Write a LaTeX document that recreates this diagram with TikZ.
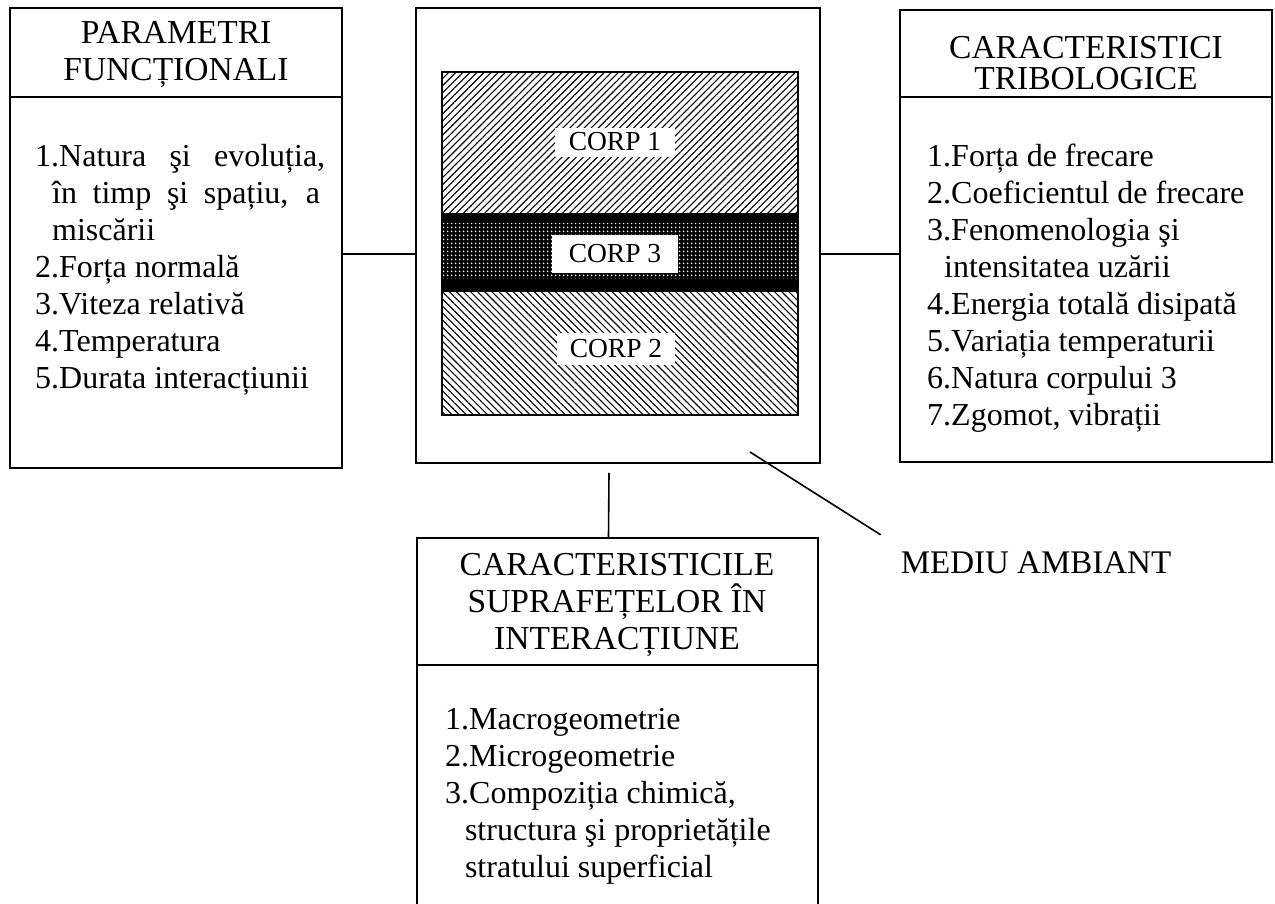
\documentclass[tikz,border=0pt]{standalone}
\usepackage{fontspec}
\setmainfont{Liberation Serif}
\usetikzlibrary{positioning,calc,patterns.meta}

\newcommand{\hang}{\hspace*{0.53em}}

\begin{document}
\begin{tikzpicture}[x=1pt, y=-1pt,
    panel/.style={draw, line width=1.6pt, inner sep=0pt},
    head/.style={align=center, font=\fontsize{33.5}{37}\selectfont},
    items/.style={anchor=north west, align=left, inner sep=0pt, font=\fontsize{32}{37}\selectfont},
    tag/.style={fill=white, inner sep=0pt, font=\fontsize{27.5}{30}\selectfont},
    link/.style={line width=1.6pt}
]
    \useasboundingbox (0,0) rectangle (1275,903);
    \clip (0,0) rectangle (1275,903);

    \node[panel, minimum width=332pt, minimum height=460pt] (param) at (176,238) {};
    \node[panel, minimum width=404pt, minimum height=455pt] (sys) at (618,235.5) {};
    \node[panel, minimum width=372pt, minimum height=452pt] (trib) at (1086,236) {};
    \node[panel, minimum width=401pt, minimum height=400pt] (surf) at (617.5,738) {};

    \draw[link] ([yshift=-90pt]param.north west) -- ([yshift=-90pt]param.north east);
    \draw[link] ([yshift=-88pt]trib.north west) -- ([yshift=-88pt]trib.north east);
    \draw[link] ([yshift=-128pt]surf.north west) -- ([yshift=-128pt]surf.north east);

    \node[head] (paramhd) at (176,55) {PARAMETRI\\FUNCȚIONALI};
    \node[head, font=\fontsize{33.5}{31}\selectfont] (tribhd) at (1086,63) {CARACTERISTICI\\TRIBOLOGICE};
    \node[head] (surfhd) at (617,605) {CARACTERISTICILE\\SUPRAFEȚELOR ÎN\\INTERACȚIUNE};

    \node[items] (paramls) at (35,144) {\makebox[290pt][s]{1.Natura şi evoluția,}\\
        \hang\makebox[268pt][s]{în timp şi spațiu, a}\\
        \hang miscării\\
        2.Forța normală\\
        3.Viteza relativă\\
        4.Temperatura\\
        5.Durata interacțiunii};
    \node[items] (tribls) at (927,144) {1.Forța de frecare\\
        2.Coeficientul de frecare\\
        3.Fenomenologia şi\\
        \hang intensitatea uzării\\
        4.Energia totală disipată\\
        5.Variația temperaturii\\
        6.Natura corpului 3\\
        7.Zgomot, vibrații};
    \node[items] (surfls) at (445,708) {1.Macrogeometrie\\
        2.Microgeometrie\\
        3.Compoziția chimică,\\
        \hspace*{0.62em}structura şi proprietățile\\
        \hspace*{0.62em}stratului superficial};

    % the three bodies
    \fill[pattern={Lines[angle=45, distance=5pt, line width=1.1pt]}] (442,72) rectangle (798,213);
    \fill[black] (442,213) rectangle (798,292);
    \fill[pattern={Dots[distance=4pt, radius=1.1pt]}, pattern color=white] (442,223) rectangle (798,278);
    \fill[pattern={Lines[angle=-45, distance=5pt, line width=1.1pt]}] (442,292) rectangle (798,415);
    \draw[line width=2pt] (442,72) rectangle (798,415);

    \node[tag, minimum width=120pt, minimum height=29pt] (corpa) at (615,142) {CORP 1};
    \node[tag, minimum width=126pt, minimum height=38pt] (corpc) at (615,254) {CORP 3};
    \node[tag, minimum width=118pt, minimum height=32pt] (corpb) at (616,349) {CORP 2};

    \draw[link] (param.east |- corpc) -- (sys.west |- corpc);
    \draw[link] (sys.east |- corpc) -- (trib.west |- corpc);
    \draw[link] ([xshift=-9pt, yshift=-9pt]sys.south) -- ([xshift=-9pt]surf.north);

    \coordinate (amb) at (750,452);
    \node[font=\fontsize{33}{37}\selectfont, inner xsep=20pt, inner ysep=17pt] (mediu) at (1036,563) {MEDIU AMBIANT};
    \draw[link] (amb) -- (mediu.north west);
\end{tikzpicture}
\end{document}
